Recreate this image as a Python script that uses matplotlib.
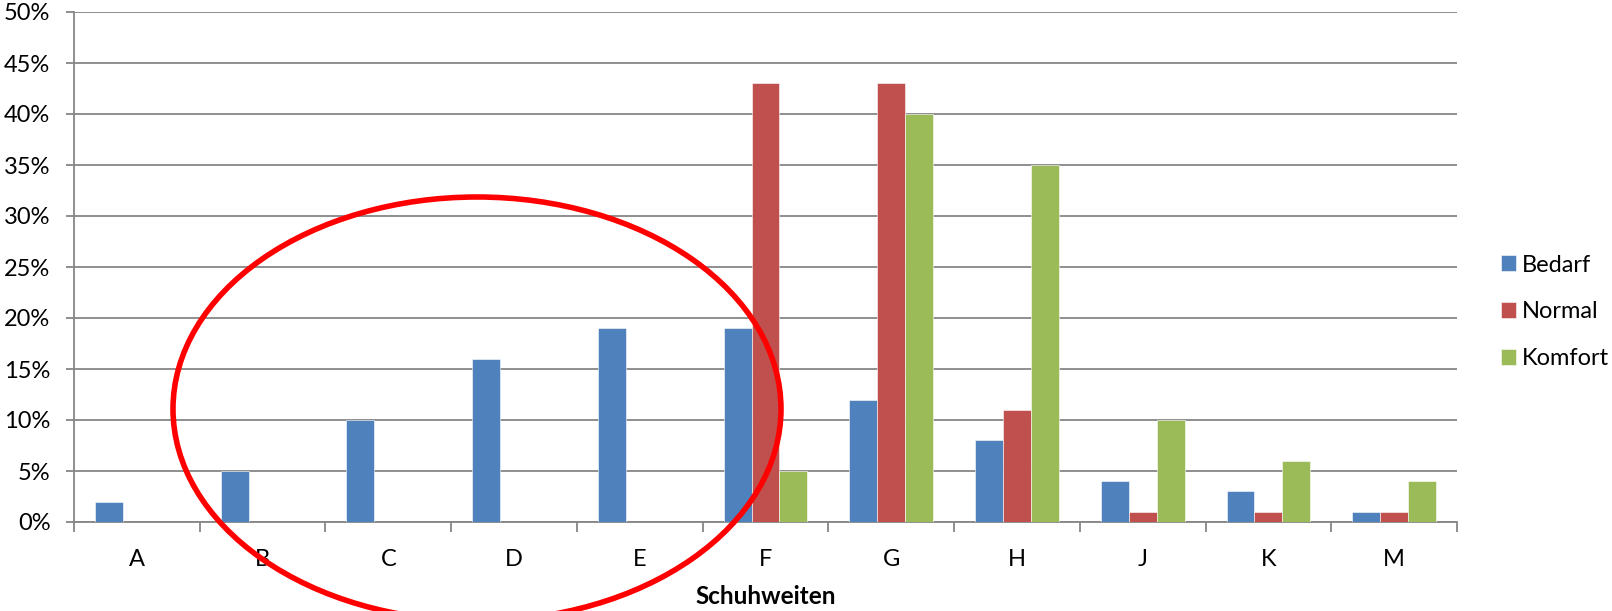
import numpy as np
import matplotlib.pyplot as plt
from matplotlib.patches import Ellipse
from matplotlib.ticker import FuncFormatter, MultipleLocator

plt.rcParams['font.family'] = ['Lato', 'DejaVu Sans']

# Schuhweiten und Anteile in Prozent
weiten = ['A', 'B', 'C', 'D', 'E', 'F', 'G', 'H', 'J', 'K', 'M']
bedarf = [2, 5, 10, 16, 19, 19, 12, 8, 4, 3, 1]
normal = [0, 0, 0, 0, 0, 43, 43, 11, 1, 1, 1]
komfort = [0, 0, 0, 0, 0, 5, 40, 35, 10, 6, 4]

serien = [('Bedarf', bedarf, '#4F81BD'),
          ('Normal', normal, '#C0504D'),
          ('Komfort', komfort, '#9BBB59')]

fig = plt.figure(figsize=(16.12, 6.11), dpi=100)
ax = fig.add_axes([74/1612, 1 - 522/611, (1457-74)/1612, (522-12)/611])

x = np.arange(len(weiten))
w = 1 / 4.5
for i, (name, vals, col) in enumerate(serien):
    ax.bar(x + (i - 1) * w, vals, width=w, color=col, label=name,
           edgecolor='white', linewidth=0.4, zorder=3)

ax.set_xlim(-0.5, len(weiten) - 0.5)
ax.set_ylim(0, 50)
ax.yaxis.set_major_locator(MultipleLocator(5))
ax.yaxis.set_major_formatter(FuncFormatter(lambda v, p: f'{v:.0f}%'))
ax.grid(axis='y', color='#868686', lw=1.3, zorder=0)

ax.set_xticks(x)
ax.set_xticklabels(weiten)
ax.set_xticks(np.arange(-0.5, len(weiten)), minor=True)
ax.tick_params(axis='x', which='major', length=0, pad=19.5, labelsize=17)
ax.tick_params(axis='x', which='minor', length=7, color='#868686', width=1.3)
ax.tick_params(axis='y', length=6, color='#868686', width=1.3, labelsize=17, pad=11)

for s in ['top', 'right']:
    ax.spines[s].set_visible(False)
for s in ['left', 'bottom']:
    ax.spines[s].set_color('#868686')
    ax.spines[s].set_linewidth(1.3)

ax.set_xlabel('Schuhweiten', fontsize=17.5, fontweight='bold', labelpad=11)

fig.legend(loc='center left', bbox_to_anchor=(1501/1612, 1 - 312/611),
           frameon=False, fontsize=17, handlelength=0.65, handleheight=0.65,
           handletextpad=0.22, labelspacing=1.1, borderpad=0, borderaxespad=0)

# rote Markierung
ell = Ellipse((477/1612, 1 - 409/611), 608/1612, 424/611,
              transform=fig.transFigure, fill=False, edgecolor='#FF0000',
              lw=4, zorder=10)
fig.patches.append(ell)

fig.savefig('out.png', dpi=100)
